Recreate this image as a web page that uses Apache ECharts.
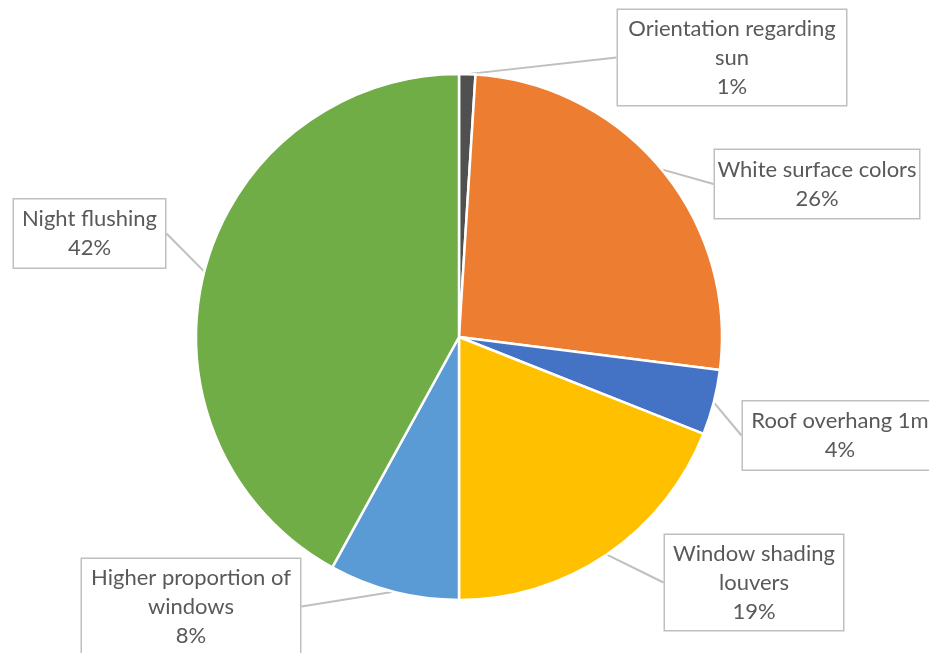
<!DOCTYPE html>
<html>
<head>
<meta charset="utf-8">
<script src="https://cdn.jsdelivr.net/npm/echarts@6/dist/echarts.min.js"></script>
<style>
  html, body { margin: 0; padding: 0; background: #ffffff; }
  #chart { width: 929px; height: 653px; }
</style>
</head>
<body>
<div id="chart"></div>
<script>
// Measures and their share of the total effect (percent)
const categories = [
  'Orientation regarding sun',
  'White surface colors',
  'Roof overhang 1m',
  'Window shading louvers',
  'Higher proportion of windows',
  'Night flushing'
];
const shares = [1, 26, 4, 19, 8, 42];

// Category names wrapped the way they appear inside the callout boxes
const calloutText = [
  'Orientation regarding\nsun',
  'White surface colors',
  'Roof overhang 1m',
  'Window shading\nlouvers',
  'Higher proportion of\nwindows',
  'Night flushing'
];

const sliceColors = ['#505050', '#ED7D31', '#4472C4', '#FFC000', '#5B9BD5', '#70AD47'];

// Callout box placement: [centreX, centreY, width]
const calloutBoxes = [
  [732, 57.5, 230],
  [817, 184, 206],
  [840, 435.5, 196],
  [754, 582.5, 180],
  [191, 606.5, 220],
  [89.5, 233.5, 153]
];

const chart = echarts.init(document.getElementById('chart'), null, { renderer: 'canvas' });

const pieData = categories.map((name, i) => {
  const lines = calloutText[i].split('\n').length + 1;
  return {
    name: name,
    value: shares[i],
    itemStyle: { color: sliceColors[i] },
    label: {
      width: calloutBoxes[i][2] - 2,
      padding: lines === 3 ? [4, 0, 4, 0] : [5, 0, 5, 0]
    }
  };
});

chart.setOption({
  backgroundColor: '#ffffff',
  animation: false,
  series: [{
    type: 'pie',
    center: [459, 337],
    radius: [0, 263],
    startAngle: 90,
    clockwise: true,
    avoidLabelOverlap: false,
    data: pieData,
    itemStyle: { borderColor: '#ffffff', borderWidth: 2.5 },
    emphasis: { disabled: true },
    label: {
      show: true,
      position: 'outside',
      fontFamily: 'Lato',
      fontSize: 22,
      lineHeight: 29,
      color: '#595959',
      align: 'center',
      backgroundColor: '#ffffff',
      borderColor: '#bfbfbf',
      borderWidth: 1.5,
      formatter: function (p) {
        return calloutText[p.dataIndex] + '\n' + Math.round(p.percent) + '%';
      }
    },
    labelLine: {
      show: true,
      length: 8,
      length2: 0,
      smooth: false,
      lineStyle: { color: '#bfbfbf', width: 2 }
    },
    labelLayout: function (p) {
      const b = calloutBoxes[p.dataIndex];
      return { x: b[0], y: b[1], align: 'center', verticalAlign: 'middle', hideOverlap: false, moveOverlap: null };
    }
  }]
});
</script>
</body>
</html>
